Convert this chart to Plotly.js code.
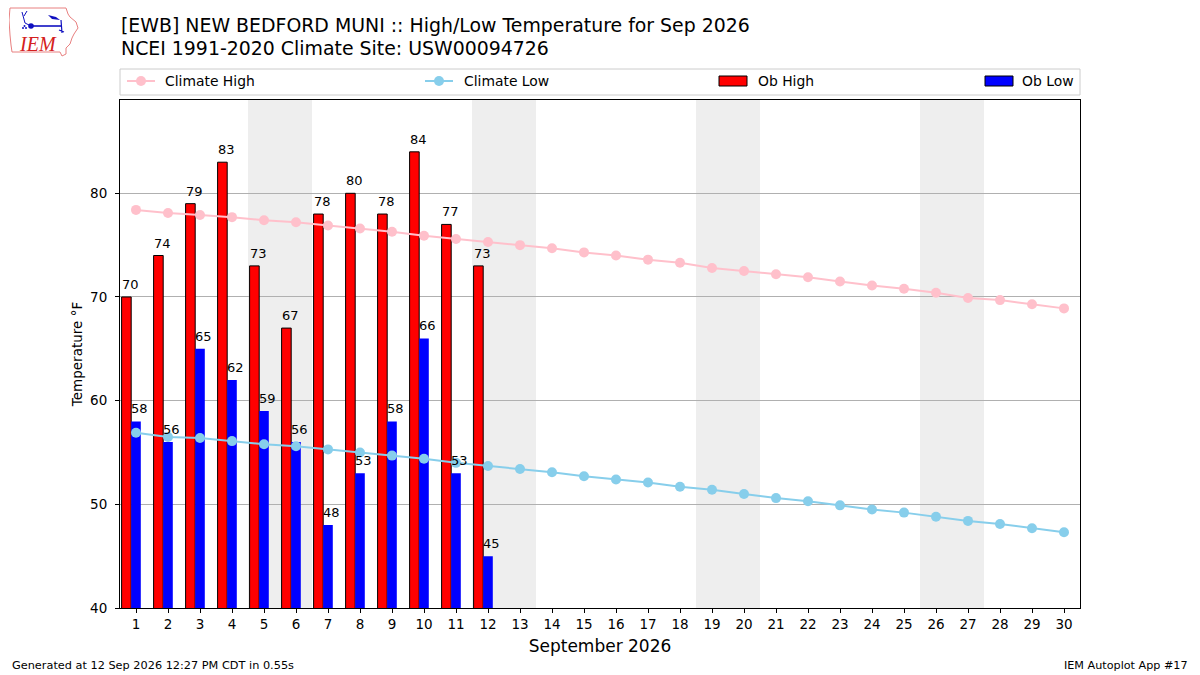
<!DOCTYPE html>
<html>
<head>
<meta charset="utf-8">
<script src="https://cdn.plot.ly/plotly-3.0.1.min.js"></script>
<style>html,body{margin:0;padding:0;background:#fff;}#chart{width:1200px;height:675px;}</style>
</head>
<body>
<div id="chart"></div>
<script>
const days = [1,2,3,4,5,6,7,8,9,10,11,12,13,14,15,16,17,18,19,20,21,22,23,24,25,26,27,28,29,30];
const climateHigh = [78.4,78.1,77.9,77.7,77.4,77.2,76.9,76.6,76.3,75.9,75.6,75.3,75.0,74.7,74.3,74.0,73.6,73.3,72.8,72.5,72.2,71.9,71.5,71.1,70.8,70.4,69.9,69.7,69.3,68.9];
const climateLow = [56.9,56.5,56.4,56.1,55.8,55.6,55.3,55.0,54.7,54.4,54.0,53.7,53.4,53.1,52.7,52.4,52.1,51.7,51.4,51.0,50.6,50.3,49.9,49.5,49.2,48.8,48.4,48.1,47.7,47.3];
const obDays = [1,2,3,4,5,6,7,8,9,10,11,12];
const obHigh = [70,74,79,83,73,67,78,80,78,84,77,73];
const obLow = [58,56,65,62,59,56,48,53,58,66,53,45];
const weekendStarts = [5,12,19,26];
const yTicks = [40,50,60,70,80];
const titleLines = ["[EWB] NEW BEDFORD MUNI :: High/Low Temperature for Sep 2026", "NCEI 1991-2020 Climate Site: USW00094726"];
const legendNames = ["Climate High", "Climate Low", "Ob High", "Ob Low"];
const footerLeft = "Generated at 12 Sep 2026 12:27 PM CDT in 0.55s";
const footerRight = "IEM Autoplot App #17";

const FONT = "DejaVu Sans, sans-serif";
const C_HIGH = '#FFC0CB', C_LOW = '#87CEEB', C_OBH = '#FF0000', C_OBL = '#0000FF';
const BARW = 0.3;

// plot area in pixels: x 120..1080, y 100..608
const PL = 120, PR = 1080, PT = 100, PB = 608;
const px = x => (x - PL) / (PR - PL);
const py = y => (PB - y) / (PB - PT);

const traces = [
  {type:'bar', x:obDays, y:obHigh, name:legendNames[2], width:BARW, offset:-1.5*BARW,
   marker:{color:C_OBH, line:{color:'#000', width:1}}, showlegend:false},
  {type:'bar', x:obDays, y:obLow, name:legendNames[3], width:BARW, offset:-0.5*BARW,
   marker:{color:C_OBL, line:{width:0}}, showlegend:false},
  {type:'scatter', mode:'lines+markers', x:days, y:climateHigh, name:legendNames[0],
   line:{color:C_HIGH, width:2}, marker:{color:C_HIGH, size:10}, showlegend:false},
  {type:'scatter', mode:'lines+markers', x:days, y:climateLow, name:legendNames[1],
   line:{color:C_LOW, width:2}, marker:{color:C_LOW, size:10}, showlegend:false}
];

const shapes = weekendStarts.map(d => ({type:'rect', xref:'x', yref:'paper', x0:d-0.5, x1:d+1.5, y0:0, y1:1,
  fillcolor:'#EEEEEE', line:{width:0}, layer:'below'}));

// manual legend (matplotlib "expand" style)
const LY = 81;
shapes.push({type:'rect', xref:'paper', yref:'paper', x0:px(120), x1:px(1080), y0:py(95), y1:py(69),
  fillcolor:'#fff', line:{color:'#CCCCCC', width:1}, layer:'above'});
[[127, C_HIGH],[425, C_LOW]].forEach(([x0,c]) => {
  shapes.push({type:'line', xref:'paper', yref:'paper', x0:px(x0), x1:px(x0+28), y0:py(LY), y1:py(LY), line:{color:c, width:2}, layer:'above'});
  shapes.push({type:'circle', xref:'paper', yref:'paper', x0:px(x0+9), x1:px(x0+19), y0:py(LY+5), y1:py(LY-5), fillcolor:c, line:{width:0}, layer:'above'});
});
[[719, C_OBH],[985, C_OBL]].forEach(([x0,c]) => {
  shapes.push({type:'rect', xref:'paper', yref:'paper', x0:px(x0), x1:px(x0+28), y0:py(LY+5), y1:py(LY-5), fillcolor:c, line:{color:'#000', width:1}, layer:'above'});
});
const legendTextX = [165, 464, 758, 1022];

const logoSvg = '<svg xmlns="http://www.w3.org/2000/svg" width="70" height="52" viewBox="0 0 70 52">' +
  '<path d="M1,2 L57,2 L59,8 L61,11 L67,16 L69,22 L65,28 L63,32 L61,38 L57,42 L57,48 L53,50 L51,46 L3,46 L2,39 L1,29 L0,14 Z" fill="none" stroke="#E88080" stroke-width="1"/>' +
  '<circle cx="22" cy="20" r="2.8" fill="#1010C0"/>' +
  '<line x1="22" y1="20" x2="53" y2="20" stroke="#1010C0" stroke-width="1.6"/>' +
  '<path d="M39,9 L47,11 L51,14 L43,13 Z" fill="#1010C0"/>' +
  '<path d="M52,14 L53,27 M50,24 L55,26" stroke="#1010C0" stroke-width="1.2" fill="none"/>' +
  '<path d="M13,6 L16,17 M18,5 L15,10 M16,17 L22,20" stroke="#1010C0" stroke-width="1" fill="none"/>' +
  '<circle cx="14" cy="22" r="1" fill="#1010C0"/><circle cx="17" cy="22" r="1" fill="#1010C0"/><circle cx="15.5" cy="20" r="1" fill="#1010C0"/>' +
  '</svg>';

const annotations = [];
// titles
[[titleLines[0], 25],[titleLines[1], 48]].forEach(([t,y]) => annotations.push({
  text:t, xref:'paper', yref:'paper', x:px(119), y:py(y), xanchor:'left', yanchor:'middle', showarrow:false,
  font:{family:FONT, size:18.9, color:'#000'}}));
// legend texts
legendNames.forEach((n,i) => annotations.push({text:n, xref:'paper', yref:'paper', x:px(legendTextX[i]-2), y:py(LY),
  xanchor:'left', yanchor:'middle', showarrow:false, font:{family:FONT, size:13.9, color:'#000'}}));
// bar value labels (left aligned at bar left edge, just above the bar)
obDays.forEach((d,i) => {
  annotations.push({text:String(obHigh[i]), x:d-1.5*BARW, y:obHigh[i], xref:'x', yref:'y', xanchor:'left', yanchor:'bottom',
    yshift:3, xshift:-2, showarrow:false, font:{family:FONT, size:13, color:'#000'}});
  annotations.push({text:String(obLow[i]), x:d-0.5*BARW, y:obLow[i], xref:'x', yref:'y', xanchor:'left', yanchor:'bottom',
    yshift:3, xshift:-2, showarrow:false, font:{family:FONT, size:13, color:'#000'}});
});
// logo text
annotations.push({text:'<i>IEM</i>', xref:'paper', yref:'paper', x:px(38), y:py(44), xanchor:'center', yanchor:'middle', showarrow:false,
  font:{family:'Liberation Serif, DejaVu Serif, serif', size:20, color:'#D42020'}});
// footer
annotations.push({text:footerLeft, xref:'paper', yref:'paper', x:px(10), y:py(665), xanchor:'left', yanchor:'middle', showarrow:false, font:{family:FONT, size:11.3}});
annotations.push({text:footerRight, xref:'paper', yref:'paper', x:px(1190), y:py(665), xanchor:'right', yanchor:'middle', showarrow:false, font:{family:FONT, size:11.2}});

const layout = {
  width:1200, height:675,
  paper_bgcolor:'#fff', plot_bgcolor:'#fff',
  font:{family:FONT, size:13, color:'#000'},
  margin:{l:PL, r:1200-PR, t:PT, b:675-PB},
  barmode:'overlay',
  showlegend:false,
  xaxis:{range:[0.5,30.5], tickmode:'array', tickvals:days, ticktext:days.map(String), showgrid:false, zeroline:false,
         ticks:'outside', ticklen:4, tickcolor:'#000', showline:true, linecolor:'#000', linewidth:1, mirror:true,
         tickfont:{size:13.5}, title:{text:'September 2026', font:{size:17}, standoff:8}},
  yaxis:{range:[40,89], tickmode:'array', tickvals:yTicks, ticktext:yTicks.map(String), showgrid:true, gridcolor:'#B0B0B0', gridwidth:1, zeroline:false,
         ticks:'outside', ticklen:4, tickcolor:'#000', showline:true, linecolor:'#000', linewidth:1, mirror:true,
         tickfont:{size:13.5}, ticklabelstandoff:5, title:{text:'Temperature °F', font:{size:13.5}, standoff:4}},
  shapes:shapes,
  images:[{source:'data:image/svg+xml;charset=utf-8,' + encodeURIComponent(logoSvg), xref:'paper', yref:'paper',
           x:px(9), y:py(6), sizex:70/960, sizey:52/508, xanchor:'left', yanchor:'top', sizing:'stretch', layer:'above'}],
  annotations:annotations
};

Plotly.newPlot('chart', traces, layout, {displayModeBar:false, staticPlot:true});
</script>
</body>
</html>
